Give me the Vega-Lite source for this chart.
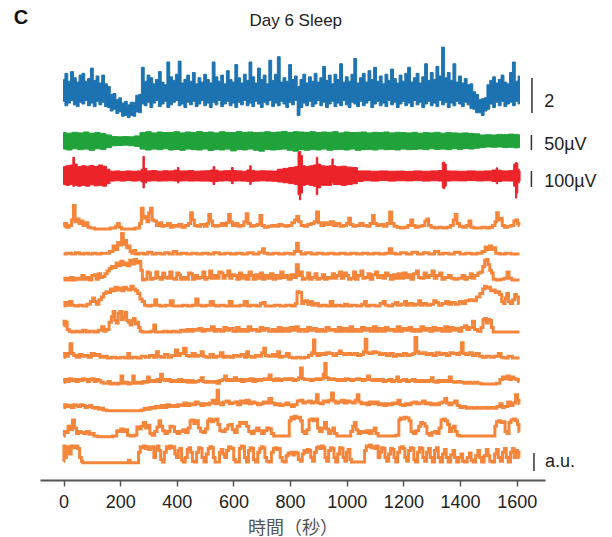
{
"$schema": "https://vega.github.io/schema/vega-lite/v6.json",
"background": "white",
"padding": {"left": 13, "top": 8, "right": 5, "bottom": 2},
"spacing": 0,
"bounds": "flush",
"config": {"view": {"stroke": null}},
"datasets": {
"blue": [{"t":0,"lo":1.35,"hi":2.6},{"t":10,"lo":1.1,"hi":2.95},{"t":20,"lo":1.25,"hi":2.5},{"t":30,"lo":1.4,"hi":3.05},{"t":40,"lo":1.15,"hi":2.7},{"t":50,"lo":1.05,"hi":2.45},{"t":60,"lo":1.3,"hi":2.85},{"t":70,"lo":1.2,"hi":2.95},{"t":80,"lo":1.4,"hi":2.5},{"t":90,"lo":1.1,"hi":2.65},{"t":100,"lo":1.25,"hi":3.25},{"t":110,"lo":1.05,"hi":2.55},{"t":120,"lo":1.35,"hi":2.8},{"t":130,"lo":1.15,"hi":2.4},{"t":140,"lo":1.3,"hi":2.85},{"t":150,"lo":1.05,"hi":2.35},{"t":160,"lo":1.0,"hi":2.2},{"t":170,"lo":0.8,"hi":1.75},{"t":180,"lo":0.9,"hi":1.8},{"t":190,"lo":0.65,"hi":1.45},{"t":200,"lo":0.75,"hi":1.55},{"t":210,"lo":0.5,"hi":1.25},{"t":220,"lo":0.55,"hi":1.35},{"t":230,"lo":0.42,"hi":1.15},{"t":240,"lo":0.55,"hi":1.3},{"t":250,"lo":0.5,"hi":1.3},{"t":260,"lo":0.75,"hi":1.7},{"t":270,"lo":0.7,"hi":1.75},{"t":280,"lo":1.2,"hi":3.3},{"t":290,"lo":1.1,"hi":2.5},{"t":300,"lo":1.3,"hi":2.85},{"t":310,"lo":1.0,"hi":2.7},{"t":320,"lo":1.25,"hi":2.35},{"t":330,"lo":1.4,"hi":2.6},{"t":340,"lo":1.05,"hi":3.05},{"t":350,"lo":1.2,"hi":2.45},{"t":360,"lo":1.35,"hi":2.3},{"t":370,"lo":1.0,"hi":3.6},{"t":380,"lo":1.15,"hi":2.75},{"t":390,"lo":1.3,"hi":2.55},{"t":400,"lo":1.4,"hi":2.9},{"t":410,"lo":1.1,"hi":3.65},{"t":420,"lo":1.2,"hi":2.4},{"t":430,"lo":1.0,"hi":2.6},{"t":440,"lo":1.3,"hi":2.85},{"t":450,"lo":1.15,"hi":2.5},{"t":460,"lo":1.35,"hi":3.0},{"t":470,"lo":1.05,"hi":2.35},{"t":480,"lo":1.2,"hi":2.7},{"t":490,"lo":1.4,"hi":2.45},{"t":500,"lo":1.1,"hi":2.9},{"t":510,"lo":1.25,"hi":2.6},{"t":520,"lo":1.0,"hi":2.4},{"t":530,"lo":1.3,"hi":3.6},{"t":540,"lo":1.15,"hi":2.75},{"t":550,"lo":1.4,"hi":2.5},{"t":560,"lo":1.05,"hi":2.85},{"t":570,"lo":1.2,"hi":2.35},{"t":580,"lo":1.35,"hi":3.1},{"t":590,"lo":1.1,"hi":2.6},{"t":600,"lo":1.25,"hi":2.45},{"t":610,"lo":1.0,"hi":3.45},{"t":620,"lo":1.3,"hi":2.7},{"t":630,"lo":1.15,"hi":2.4},{"t":640,"lo":1.4,"hi":2.9},{"t":650,"lo":1.1,"hi":2.55},{"t":660,"lo":1.25,"hi":3.6},{"t":670,"lo":1.05,"hi":2.75},{"t":680,"lo":1.35,"hi":2.4},{"t":690,"lo":1.2,"hi":3.25},{"t":700,"lo":1.0,"hi":2.6},{"t":710,"lo":1.3,"hi":2.85},{"t":720,"lo":1.15,"hi":2.35},{"t":730,"lo":1.4,"hi":3.7},{"t":740,"lo":1.05,"hi":2.55},{"t":750,"lo":1.25,"hi":2.9},{"t":760,"lo":1.1,"hi":3.9},{"t":770,"lo":1.35,"hi":2.45},{"t":780,"lo":1.2,"hi":2.7},{"t":790,"lo":1.0,"hi":2.5},{"t":800,"lo":1.3,"hi":3.45},{"t":810,"lo":1.15,"hi":2.6},{"t":820,"lo":1.4,"hi":2.8},{"t":830,"lo":0.55,"hi":2.2},{"t":840,"lo":1.0,"hi":2.6},{"t":850,"lo":1.25,"hi":2.9},{"t":860,"lo":1.1,"hi":2.4},{"t":870,"lo":1.35,"hi":2.75},{"t":880,"lo":1.05,"hi":2.5},{"t":890,"lo":1.2,"hi":2.95},{"t":900,"lo":1.4,"hi":2.45},{"t":910,"lo":1.1,"hi":2.7},{"t":920,"lo":1.3,"hi":3.35},{"t":930,"lo":1.0,"hi":2.55},{"t":940,"lo":1.2,"hi":2.85},{"t":950,"lo":1.35,"hi":2.35},{"t":960,"lo":1.05,"hi":2.9},{"t":970,"lo":1.25,"hi":2.6},{"t":980,"lo":1.1,"hi":3.5},{"t":990,"lo":1.4,"hi":2.45},{"t":1000,"lo":1.15,"hi":2.75},{"t":1010,"lo":1.0,"hi":2.5},{"t":1020,"lo":1.3,"hi":2.9},{"t":1030,"lo":1.2,"hi":3.8},{"t":1040,"lo":1.05,"hi":2.4},{"t":1050,"lo":1.35,"hi":2.7},{"t":1060,"lo":1.1,"hi":2.95},{"t":1070,"lo":1.25,"hi":2.45},{"t":1080,"lo":1.4,"hi":3.1},{"t":1090,"lo":1.0,"hi":2.6},{"t":1100,"lo":1.2,"hi":3.3},{"t":1110,"lo":1.35,"hi":2.5},{"t":1120,"lo":1.1,"hi":2.8},{"t":1130,"lo":1.25,"hi":2.35},{"t":1140,"lo":1.05,"hi":2.9},{"t":1150,"lo":1.4,"hi":2.55},{"t":1160,"lo":1.15,"hi":3.2},{"t":1170,"lo":1.3,"hi":2.65},{"t":1180,"lo":1.0,"hi":2.4},{"t":1190,"lo":1.2,"hi":2.85},{"t":1200,"lo":1.35,"hi":2.5},{"t":1210,"lo":1.1,"hi":2.95},{"t":1220,"lo":1.25,"hi":3.3},{"t":1230,"lo":1.05,"hi":2.45},{"t":1240,"lo":1.4,"hi":2.7},{"t":1250,"lo":1.15,"hi":2.95},{"t":1260,"lo":1.3,"hi":2.4},{"t":1270,"lo":1.0,"hi":2.75},{"t":1280,"lo":1.2,"hi":3.5},{"t":1290,"lo":1.35,"hi":2.55},{"t":1300,"lo":1.1,"hi":3.0},{"t":1310,"lo":1.25,"hi":2.6},{"t":1320,"lo":1.05,"hi":3.35},{"t":1330,"lo":1.4,"hi":2.8},{"t":1340,"lo":1.15,"hi":4.45},{"t":1350,"lo":1.3,"hi":2.7},{"t":1360,"lo":1.0,"hi":3.0},{"t":1370,"lo":1.25,"hi":2.55},{"t":1380,"lo":1.1,"hi":3.5},{"t":1390,"lo":1.35,"hi":2.45},{"t":1400,"lo":1.2,"hi":2.8},{"t":1410,"lo":1.05,"hi":2.4},{"t":1420,"lo":1.3,"hi":2.65},{"t":1430,"lo":1.15,"hi":2.3},{"t":1440,"lo":0.95,"hi":2.35},{"t":1450,"lo":0.9,"hi":1.9},{"t":1460,"lo":0.7,"hi":1.75},{"t":1470,"lo":0.7,"hi":1.45},{"t":1480,"lo":0.55,"hi":1.5},{"t":1490,"lo":0.8,"hi":1.55},{"t":1500,"lo":0.9,"hi":2.3},{"t":1510,"lo":1.2,"hi":2.55},{"t":1520,"lo":1.0,"hi":2.75},{"t":1530,"lo":1.3,"hi":2.4},{"t":1540,"lo":1.1,"hi":2.6},{"t":1550,"lo":1.35,"hi":2.85},{"t":1560,"lo":1.05,"hi":2.45},{"t":1570,"lo":1.2,"hi":2.35},{"t":1580,"lo":1.3,"hi":3.0},{"t":1590,"lo":1.1,"hi":3.6},{"t":1600,"lo":1.35,"hi":2.5},{"t":1610,"lo":1.2,"hi":2.8}],
"green": [{"t":0,"lo":-27,"hi":28},{"t":20,"lo":-30,"hi":26},{"t":40,"lo":-26,"hi":29},{"t":60,"lo":-29,"hi":27},{"t":80,"lo":-27,"hi":30},{"t":100,"lo":-31,"hi":26},{"t":120,"lo":-26,"hi":28},{"t":140,"lo":-28,"hi":25},{"t":160,"lo":-22,"hi":20},{"t":180,"lo":-16,"hi":15},{"t":200,"lo":-15,"hi":14},{"t":220,"lo":-14,"hi":15},{"t":240,"lo":-16,"hi":14},{"t":260,"lo":-18,"hi":17},{"t":280,"lo":-27,"hi":28},{"t":300,"lo":-30,"hi":31},{"t":320,"lo":-27,"hi":27},{"t":340,"lo":-29,"hi":30},{"t":360,"lo":-26,"hi":28},{"t":380,"lo":-30,"hi":29},{"t":400,"lo":-28,"hi":31},{"t":420,"lo":-31,"hi":27},{"t":440,"lo":-27,"hi":30},{"t":460,"lo":-29,"hi":28},{"t":480,"lo":-30,"hi":32},{"t":500,"lo":-27,"hi":28},{"t":520,"lo":-32,"hi":30},{"t":540,"lo":-28,"hi":27},{"t":560,"lo":-30,"hi":31},{"t":580,"lo":-27,"hi":29},{"t":600,"lo":-33,"hi":28},{"t":620,"lo":-28,"hi":32},{"t":640,"lo":-30,"hi":29},{"t":660,"lo":-27,"hi":30},{"t":680,"lo":-31,"hi":28},{"t":700,"lo":-34,"hi":29},{"t":720,"lo":-28,"hi":31},{"t":740,"lo":-30,"hi":28},{"t":760,"lo":-29,"hi":30},{"t":780,"lo":-27,"hi":32},{"t":800,"lo":-31,"hi":28},{"t":820,"lo":-34,"hi":31},{"t":840,"lo":-29,"hi":30},{"t":860,"lo":-31,"hi":29},{"t":880,"lo":-28,"hi":31},{"t":900,"lo":-30,"hi":28},{"t":920,"lo":-27,"hi":30},{"t":940,"lo":-31,"hi":29},{"t":960,"lo":-29,"hi":31},{"t":980,"lo":-28,"hi":27},{"t":1000,"lo":-30,"hi":30},{"t":1020,"lo":-27,"hi":28},{"t":1040,"lo":-31,"hi":29},{"t":1060,"lo":-29,"hi":30},{"t":1080,"lo":-28,"hi":27},{"t":1100,"lo":-30,"hi":29},{"t":1120,"lo":-27,"hi":28},{"t":1140,"lo":-29,"hi":30},{"t":1160,"lo":-28,"hi":27},{"t":1180,"lo":-30,"hi":29},{"t":1200,"lo":-27,"hi":28},{"t":1220,"lo":-29,"hi":27},{"t":1240,"lo":-28,"hi":29},{"t":1260,"lo":-27,"hi":26},{"t":1280,"lo":-29,"hi":28},{"t":1300,"lo":-26,"hi":27},{"t":1320,"lo":-28,"hi":29},{"t":1340,"lo":-27,"hi":26},{"t":1360,"lo":-29,"hi":28},{"t":1380,"lo":-26,"hi":27},{"t":1400,"lo":-28,"hi":26},{"t":1420,"lo":-25,"hi":27},{"t":1440,"lo":-27,"hi":25},{"t":1460,"lo":-24,"hi":24},{"t":1480,"lo":-22,"hi":20},{"t":1500,"lo":-20,"hi":21},{"t":1520,"lo":-21,"hi":20},{"t":1540,"lo":-20,"hi":22},{"t":1560,"lo":-22,"hi":21},{"t":1580,"lo":-21,"hi":23},{"t":1600,"lo":-23,"hi":22},{"t":1610,"lo":-22,"hi":21}],
"red": [{"t":0,"lo":-50,"hi":55},{"t":15,"lo":-55,"hi":60},{"t":30,"lo":-50,"hi":65},{"t":36,"lo":-60,"hi":110},{"t":42,"lo":-55,"hi":70},{"t":55,"lo":-60,"hi":55},{"t":70,"lo":-55,"hi":60},{"t":85,"lo":-60,"hi":58},{"t":100,"lo":-52,"hi":62},{"t":115,"lo":-58,"hi":56},{"t":130,"lo":-55,"hi":65},{"t":145,"lo":-60,"hi":58},{"t":158,"lo":-45,"hi":40},{"t":170,"lo":-30,"hi":28},{"t":190,"lo":-28,"hi":30},{"t":210,"lo":-30,"hi":27},{"t":230,"lo":-27,"hi":30},{"t":250,"lo":-30,"hi":28},{"t":270,"lo":-28,"hi":30},{"t":278,"lo":-35,"hi":40},{"t":283,"lo":-70,"hi":115},{"t":288,"lo":-40,"hi":45},{"t":300,"lo":-30,"hi":30},{"t":320,"lo":-28,"hi":32},{"t":340,"lo":-30,"hi":28},{"t":360,"lo":-29,"hi":31},{"t":380,"lo":-28,"hi":30},{"t":400,"lo":-30,"hi":35},{"t":405,"lo":-40,"hi":50},{"t":410,"lo":-30,"hi":30},{"t":430,"lo":-28,"hi":30},{"t":450,"lo":-30,"hi":32},{"t":470,"lo":-29,"hi":28},{"t":490,"lo":-30,"hi":30},{"t":510,"lo":-30,"hi":31},{"t":525,"lo":-32,"hi":35},{"t":531,"lo":-50,"hi":55},{"t":537,"lo":-32,"hi":35},{"t":555,"lo":-30,"hi":29},{"t":575,"lo":-28,"hi":31},{"t":590,"lo":-30,"hi":32},{"t":596,"lo":-45,"hi":50},{"t":602,"lo":-30,"hi":32},{"t":620,"lo":-29,"hi":30},{"t":640,"lo":-30,"hi":28},{"t":655,"lo":-32,"hi":36},{"t":660,"lo":-50,"hi":60},{"t":665,"lo":-32,"hi":33},{"t":685,"lo":-30,"hi":29},{"t":705,"lo":-28,"hi":31},{"t":725,"lo":-30,"hi":30},{"t":745,"lo":-31,"hi":29},{"t":765,"lo":-35,"hi":40},{"t":785,"lo":-40,"hi":45},{"t":805,"lo":-45,"hi":50},{"t":825,"lo":-50,"hi":55},{"t":831,"lo":-110,"hi":140},{"t":835,"lo":-140,"hi":145},{"t":840,"lo":-100,"hi":120},{"t":848,"lo":-55,"hi":60},{"t":860,"lo":-50,"hi":55},{"t":875,"lo":-55,"hi":60},{"t":890,"lo":-60,"hi":65},{"t":895,"lo":-110,"hi":110},{"t":900,"lo":-70,"hi":70},{"t":915,"lo":-55,"hi":60},{"t":930,"lo":-55,"hi":58},{"t":945,"lo":-55,"hi":60},{"t":950,"lo":-40,"hi":100},{"t":955,"lo":-50,"hi":60},{"t":970,"lo":-50,"hi":55},{"t":990,"lo":-55,"hi":58},{"t":1010,"lo":-50,"hi":52},{"t":1030,"lo":-45,"hi":50},{"t":1045,"lo":-32,"hi":30},{"t":1070,"lo":-28,"hi":30},{"t":1100,"lo":-30,"hi":28},{"t":1130,"lo":-27,"hi":30},{"t":1160,"lo":-30,"hi":28},{"t":1190,"lo":-28,"hi":29},{"t":1220,"lo":-29,"hi":27},{"t":1250,"lo":-27,"hi":30},{"t":1280,"lo":-30,"hi":28},{"t":1310,"lo":-28,"hi":30},{"t":1335,"lo":-30,"hi":32},{"t":1340,"lo":-70,"hi":80},{"t":1344,"lo":-75,"hi":82},{"t":1348,"lo":-60,"hi":70},{"t":1355,"lo":-30,"hi":30},{"t":1380,"lo":-28,"hi":29},{"t":1410,"lo":-29,"hi":28},{"t":1440,"lo":-27,"hi":30},{"t":1470,"lo":-29,"hi":28},{"t":1500,"lo":-28,"hi":30},{"t":1525,"lo":-32,"hi":35},{"t":1530,"lo":-45,"hi":48},{"t":1535,"lo":-32,"hi":34},{"t":1560,"lo":-29,"hi":30},{"t":1585,"lo":-30,"hi":32},{"t":1594,"lo":-60,"hi":70},{"t":1598,"lo":-130,"hi":80},{"t":1602,"lo":-100,"hi":75},{"t":1606,"lo":-40,"hi":40},{"t":1612,"lo":-30,"hi":30}],
"o1": [{"t":0,"v":0.15},{"t":8,"v":0.3},{"t":15,"v":0.1},{"t":25,"v":0.2},{"t":32,"v":0.5},{"t":38,"v":1.3},{"t":44,"v":0.4},{"t":52,"v":0.55},{"t":58,"v":0.3},{"t":66,"v":0.45},{"t":72,"v":0.2},{"t":82,"v":0.35},{"t":90,"v":0.1},{"t":100,"v":0.05},{"t":120,"v":0},{"t":150,"v":0},{"t":180,"v":0.05},{"t":188,"v":0.15},{"t":194,"v":0.3},{"t":200,"v":0.1},{"t":210,"v":0},{"t":240,"v":0},{"t":265,"v":0.05},{"t":272,"v":0.3},{"t":278,"v":1.15},{"t":284,"v":0.6},{"t":292,"v":0.7},{"t":298,"v":0.4},{"t":304,"v":0.9},{"t":310,"v":1.15},{"t":316,"v":0.5},{"t":324,"v":0.45},{"t":332,"v":0.2},{"t":342,"v":0.35},{"t":352,"v":0.15},{"t":362,"v":0.2},{"t":372,"v":0.3},{"t":382,"v":0.1},{"t":392,"v":0.2},{"t":402,"v":0.15},{"t":412,"v":0.25},{"t":424,"v":0.1},{"t":436,"v":0.2},{"t":446,"v":0.3},{"t":452,"v":0.9},{"t":458,"v":0.5},{"t":466,"v":0.2},{"t":478,"v":0.15},{"t":490,"v":0.25},{"t":504,"v":0.15},{"t":510,"v":0.3},{"t":516,"v":0.8},{"t":522,"v":0.45},{"t":530,"v":0.2},{"t":540,"v":0.15},{"t":552,"v":0.2},{"t":562,"v":0.3},{"t":570,"v":0.2},{"t":580,"v":0.35},{"t":586,"v":0.8},{"t":592,"v":0.4},{"t":600,"v":0.2},{"t":612,"v":0.3},{"t":620,"v":0.15},{"t":632,"v":0.2},{"t":642,"v":0.4},{"t":648,"v":0.85},{"t":654,"v":0.3},{"t":666,"v":0.15},{"t":678,"v":0.2},{"t":690,"v":0.25},{"t":697,"v":0.75},{"t":703,"v":0.2},{"t":715,"v":0.1},{"t":730,"v":0.15},{"t":742,"v":0.2},{"t":754,"v":0.15},{"t":766,"v":0.25},{"t":776,"v":0.2},{"t":788,"v":0.15},{"t":800,"v":0.2},{"t":812,"v":0.35},{"t":820,"v":0.5},{"t":827,"v":0.7},{"t":834,"v":0.4},{"t":844,"v":0.2},{"t":856,"v":0.15},{"t":868,"v":0.25},{"t":880,"v":0.3},{"t":890,"v":0.4},{"t":897,"v":0.95},{"t":904,"v":0.35},{"t":914,"v":0.2},{"t":926,"v":0.35},{"t":936,"v":0.25},{"t":948,"v":0.4},{"t":958,"v":0.2},{"t":970,"v":0.3},{"t":982,"v":0.15},{"t":994,"v":0.2},{"t":1004,"v":0.3},{"t":1010,"v":0.6},{"t":1016,"v":0.25},{"t":1028,"v":0.15},{"t":1040,"v":0.2},{"t":1052,"v":0.3},{"t":1064,"v":0.2},{"t":1076,"v":0.15},{"t":1088,"v":0.3},{"t":1094,"v":0.75},{"t":1100,"v":0.3},{"t":1112,"v":0.2},{"t":1124,"v":0.25},{"t":1136,"v":0.15},{"t":1148,"v":0.3},{"t":1155,"v":0.95},{"t":1162,"v":0.3},{"t":1172,"v":0.15},{"t":1184,"v":0.1},{"t":1196,"v":0.05},{"t":1210,"v":0.1},{"t":1222,"v":0.2},{"t":1230,"v":0.5},{"t":1236,"v":0.2},{"t":1248,"v":0.1},{"t":1260,"v":0.15},{"t":1272,"v":0.2},{"t":1280,"v":0.45},{"t":1286,"v":0.55},{"t":1292,"v":0.2},{"t":1304,"v":0.1},{"t":1316,"v":0.05},{"t":1330,"v":0.1},{"t":1345,"v":0.05},{"t":1360,"v":0.1},{"t":1372,"v":0.2},{"t":1380,"v":0.5},{"t":1386,"v":0.8},{"t":1392,"v":0.3},{"t":1404,"v":0.15},{"t":1416,"v":0.1},{"t":1428,"v":0.2},{"t":1435,"v":0.45},{"t":1442,"v":0.1},{"t":1455,"v":0.05},{"t":1470,"v":0.05},{"t":1485,"v":0.1},{"t":1498,"v":0.05},{"t":1510,"v":0.1},{"t":1520,"v":0.2},{"t":1527,"v":0.4},{"t":1532,"v":0.9},{"t":1538,"v":0.5},{"t":1546,"v":0.6},{"t":1552,"v":0.2},{"t":1562,"v":0.1},{"t":1574,"v":0.15},{"t":1586,"v":0.2},{"t":1594,"v":0.45},{"t":1600,"v":0.5},{"t":1606,"v":0.3},{"t":1610,"v":0.2}],
"o2": [{"t":0,"v":0.05},{"t":20,"v":0.1},{"t":35,"v":0.05},{"t":50,"v":0.12},{"t":65,"v":0.05},{"t":80,"v":0.1},{"t":95,"v":0.05},{"t":110,"v":0.1},{"t":125,"v":0.05},{"t":140,"v":0.1},{"t":155,"v":0.1},{"t":170,"v":0.2},{"t":180,"v":0.5},{"t":188,"v":0.3},{"t":195,"v":0.7},{"t":202,"v":0.55},{"t":208,"v":1.2},{"t":214,"v":0.6},{"t":220,"v":0.8},{"t":226,"v":0.4},{"t":232,"v":0.5},{"t":238,"v":0.2},{"t":245,"v":0.1},{"t":252,"v":0.25},{"t":258,"v":0.05},{"t":275,"v":0.1},{"t":290,"v":0.05},{"t":305,"v":0.15},{"t":320,"v":0.05},{"t":335,"v":0.1},{"t":350,"v":0.05},{"t":365,"v":0.12},{"t":380,"v":0.05},{"t":395,"v":0.2},{"t":405,"v":0.05},{"t":425,"v":0.1},{"t":445,"v":0.05},{"t":460,"v":0.1},{"t":480,"v":0.05},{"t":500,"v":0.1},{"t":520,"v":0.05},{"t":540,"v":0.12},{"t":560,"v":0.05},{"t":580,"v":0.1},{"t":600,"v":0.05},{"t":620,"v":0.1},{"t":640,"v":0.05},{"t":660,"v":0.12},{"t":680,"v":0.05},{"t":700,"v":0.15},{"t":706,"v":0.35},{"t":712,"v":0.1},{"t":730,"v":0.05},{"t":750,"v":0.1},{"t":770,"v":0.05},{"t":790,"v":0.1},{"t":810,"v":0.05},{"t":820,"v":0.2},{"t":826,"v":0.65},{"t":832,"v":0.2},{"t":845,"v":0.05},{"t":865,"v":0.12},{"t":885,"v":0.05},{"t":905,"v":0.1},{"t":925,"v":0.05},{"t":945,"v":0.1},{"t":965,"v":0.05},{"t":985,"v":0.1},{"t":1005,"v":0.05},{"t":1025,"v":0.1},{"t":1045,"v":0.05},{"t":1065,"v":0.1},{"t":1085,"v":0.05},{"t":1105,"v":0.1},{"t":1125,"v":0.05},{"t":1145,"v":0.1},{"t":1155,"v":0.35},{"t":1162,"v":0.1},{"t":1180,"v":0.05},{"t":1200,"v":0.12},{"t":1220,"v":0.05},{"t":1240,"v":0.15},{"t":1260,"v":0.05},{"t":1280,"v":0.12},{"t":1300,"v":0.05},{"t":1320,"v":0.2},{"t":1330,"v":0.05},{"t":1350,"v":0.1},{"t":1370,"v":0.05},{"t":1390,"v":0.15},{"t":1410,"v":0.05},{"t":1430,"v":0.1},{"t":1450,"v":0.05},{"t":1470,"v":0.1},{"t":1485,"v":0.2},{"t":1492,"v":0.45},{"t":1500,"v":0.3},{"t":1508,"v":0.5},{"t":1515,"v":0.3},{"t":1522,"v":0.4},{"t":1530,"v":0.1},{"t":1550,"v":0.05},{"t":1570,"v":0.1},{"t":1590,"v":0.05},{"t":1610,"v":0.05}],
"o3": [{"t":0,"v":0.05},{"t":10,"v":0.15},{"t":20,"v":0.05},{"t":30,"v":0.2},{"t":38,"v":0.05},{"t":50,"v":0.15},{"t":60,"v":0.1},{"t":70,"v":0.3},{"t":76,"v":0.1},{"t":88,"v":0.2},{"t":95,"v":0.05},{"t":105,"v":0.3},{"t":112,"v":0.35},{"t":118,"v":0.1},{"t":128,"v":0.4},{"t":134,"v":0.2},{"t":142,"v":0.25},{"t":150,"v":0.4},{"t":158,"v":0.55},{"t":166,"v":0.7},{"t":174,"v":0.8},{"t":182,"v":0.75},{"t":190,"v":1.0},{"t":198,"v":0.85},{"t":206,"v":1.1},{"t":214,"v":0.9},{"t":222,"v":1.0},{"t":230,"v":0.85},{"t":238,"v":1.15},{"t":246,"v":0.95},{"t":254,"v":1.2},{"t":262,"v":1.0},{"t":270,"v":1.1},{"t":276,"v":0.6},{"t":281,"v":0.05},{"t":292,"v":0.1},{"t":298,"v":0.5},{"t":304,"v":0.45},{"t":310,"v":0.1},{"t":322,"v":0.15},{"t":330,"v":0.5},{"t":336,"v":0.2},{"t":346,"v":0.1},{"t":354,"v":0.45},{"t":360,"v":0.2},{"t":370,"v":0.15},{"t":380,"v":0.5},{"t":386,"v":0.15},{"t":396,"v":0.1},{"t":404,"v":0.45},{"t":410,"v":0.35},{"t":416,"v":0.1},{"t":428,"v":0.2},{"t":436,"v":0.1},{"t":446,"v":0.45},{"t":452,"v":0.4},{"t":458,"v":0.1},{"t":470,"v":0.3},{"t":476,"v":0.15},{"t":488,"v":0.2},{"t":496,"v":0.5},{"t":502,"v":0.1},{"t":512,"v":0.2},{"t":520,"v":0.55},{"t":526,"v":0.15},{"t":536,"v":0.3},{"t":544,"v":0.15},{"t":554,"v":0.5},{"t":560,"v":0.45},{"t":566,"v":0.15},{"t":576,"v":0.3},{"t":584,"v":0.55},{"t":590,"v":0.15},{"t":600,"v":0.35},{"t":608,"v":0.3},{"t":616,"v":0.1},{"t":626,"v":0.45},{"t":632,"v":0.15},{"t":642,"v":0.3},{"t":650,"v":0.1},{"t":660,"v":0.5},{"t":666,"v":0.3},{"t":674,"v":0.1},{"t":684,"v":0.35},{"t":692,"v":0.15},{"t":700,"v":0.45},{"t":706,"v":0.1},{"t":716,"v":0.3},{"t":726,"v":0.15},{"t":736,"v":0.4},{"t":744,"v":0.1},{"t":754,"v":0.3},{"t":762,"v":0.15},{"t":772,"v":0.5},{"t":778,"v":0.2},{"t":788,"v":0.3},{"t":798,"v":0.1},{"t":810,"v":0.35},{"t":818,"v":0.2},{"t":826,"v":0.9},{"t":832,"v":0.3},{"t":840,"v":0.5},{"t":846,"v":0.1},{"t":858,"v":0.15},{"t":866,"v":0.45},{"t":872,"v":0.1},{"t":884,"v":0.2},{"t":892,"v":0.4},{"t":898,"v":0.1},{"t":910,"v":0.15},{"t":918,"v":0.35},{"t":926,"v":0.1},{"t":936,"v":0.2},{"t":944,"v":0.15},{"t":954,"v":0.4},{"t":960,"v":0.15},{"t":970,"v":0.3},{"t":978,"v":0.5},{"t":984,"v":0.15},{"t":996,"v":0.45},{"t":1002,"v":0.3},{"t":1010,"v":0.1},{"t":1020,"v":0.15},{"t":1028,"v":0.5},{"t":1034,"v":0.1},{"t":1046,"v":0.3},{"t":1054,"v":0.55},{"t":1060,"v":0.15},{"t":1070,"v":0.2},{"t":1080,"v":0.4},{"t":1086,"v":0.1},{"t":1098,"v":0.35},{"t":1106,"v":0.5},{"t":1112,"v":0.2},{"t":1124,"v":0.3},{"t":1132,"v":0.15},{"t":1142,"v":0.45},{"t":1150,"v":0.3},{"t":1158,"v":0.1},{"t":1170,"v":0.35},{"t":1176,"v":0.15},{"t":1188,"v":0.4},{"t":1196,"v":0.15},{"t":1206,"v":0.45},{"t":1214,"v":0.2},{"t":1224,"v":0.35},{"t":1230,"v":0.1},{"t":1242,"v":0.4},{"t":1250,"v":0.55},{"t":1256,"v":0.2},{"t":1268,"v":0.15},{"t":1278,"v":0.45},{"t":1286,"v":0.2},{"t":1296,"v":0.3},{"t":1306,"v":0.55},{"t":1312,"v":0.15},{"t":1324,"v":0.3},{"t":1332,"v":0.45},{"t":1340,"v":0.1},{"t":1354,"v":0.2},{"t":1364,"v":0.3},{"t":1374,"v":0.15},{"t":1386,"v":0.1},{"t":1400,"v":0.15},{"t":1414,"v":0.3},{"t":1420,"v":0.1},{"t":1432,"v":0.2},{"t":1440,"v":0.4},{"t":1446,"v":0.15},{"t":1458,"v":0.3},{"t":1468,"v":0.45},{"t":1476,"v":0.5},{"t":1484,"v":0.8},{"t":1490,"v":1.15},{"t":1496,"v":1.2},{"t":1502,"v":0.9},{"t":1508,"v":0.6},{"t":1514,"v":0.45},{"t":1520,"v":0.1},{"t":1535,"v":0.05},{"t":1550,"v":0.1},{"t":1562,"v":0.15},{"t":1570,"v":0.5},{"t":1576,"v":0.15},{"t":1590,"v":0.05},{"t":1610,"v":0.05}],
"o4": [{"t":0,"v":0.05},{"t":10,"v":0.25},{"t":16,"v":0.1},{"t":26,"v":0.3},{"t":34,"v":0.1},{"t":45,"v":0.05},{"t":60,"v":0.1},{"t":75,"v":0.05},{"t":90,"v":0.15},{"t":100,"v":0.3},{"t":106,"v":0.5},{"t":112,"v":0.3},{"t":120,"v":0.15},{"t":130,"v":0.4},{"t":138,"v":0.55},{"t":146,"v":0.75},{"t":154,"v":0.85},{"t":162,"v":0.8},{"t":170,"v":1.0},{"t":178,"v":0.9},{"t":186,"v":1.1},{"t":194,"v":0.95},{"t":202,"v":1.05},{"t":210,"v":0.9},{"t":218,"v":1.1},{"t":226,"v":1.0},{"t":234,"v":0.95},{"t":242,"v":1.15},{"t":250,"v":1.0},{"t":258,"v":0.9},{"t":266,"v":0.75},{"t":274,"v":0.45},{"t":282,"v":0.3},{"t":290,"v":0.1},{"t":300,"v":0.05},{"t":318,"v":0.1},{"t":326,"v":0.4},{"t":332,"v":0.1},{"t":350,"v":0.05},{"t":370,"v":0.1},{"t":384,"v":0.35},{"t":390,"v":0.05},{"t":410,"v":0.05},{"t":430,"v":0.1},{"t":446,"v":0.05},{"t":462,"v":0.1},{"t":472,"v":0.45},{"t":478,"v":0.1},{"t":495,"v":0.05},{"t":510,"v":0.1},{"t":526,"v":0.3},{"t":532,"v":0.1},{"t":545,"v":0.05},{"t":560,"v":0.1},{"t":578,"v":0.05},{"t":592,"v":0.3},{"t":598,"v":0.05},{"t":615,"v":0.05},{"t":630,"v":0.1},{"t":646,"v":0.3},{"t":652,"v":0.05},{"t":670,"v":0.1},{"t":690,"v":0.05},{"t":700,"v":0.2},{"t":708,"v":0.25},{"t":716,"v":0.05},{"t":735,"v":0.05},{"t":755,"v":0.1},{"t":775,"v":0.05},{"t":795,"v":0.1},{"t":815,"v":0.05},{"t":822,"v":0.2},{"t":827,"v":0.85},{"t":838,"v":0.8},{"t":844,"v":0.2},{"t":852,"v":0.3},{"t":858,"v":0.35},{"t":866,"v":0.15},{"t":875,"v":0.3},{"t":882,"v":0.1},{"t":895,"v":0.2},{"t":905,"v":0.05},{"t":920,"v":0.1},{"t":935,"v":0.05},{"t":948,"v":0.3},{"t":954,"v":0.05},{"t":970,"v":0.1},{"t":985,"v":0.05},{"t":1000,"v":0.15},{"t":1008,"v":0.05},{"t":1025,"v":0.1},{"t":1045,"v":0.05},{"t":1060,"v":0.15},{"t":1066,"v":0.3},{"t":1072,"v":0.05},{"t":1090,"v":0.1},{"t":1110,"v":0.05},{"t":1125,"v":0.2},{"t":1132,"v":0.3},{"t":1140,"v":0.1},{"t":1155,"v":0.05},{"t":1168,"v":0.15},{"t":1176,"v":0.25},{"t":1184,"v":0.1},{"t":1200,"v":0.15},{"t":1208,"v":0.3},{"t":1214,"v":0.1},{"t":1228,"v":0.2},{"t":1238,"v":0.1},{"t":1250,"v":0.15},{"t":1258,"v":0.35},{"t":1264,"v":0.1},{"t":1276,"v":0.2},{"t":1290,"v":0.1},{"t":1302,"v":0.15},{"t":1312,"v":0.35},{"t":1320,"v":0.25},{"t":1330,"v":0.1},{"t":1344,"v":0.2},{"t":1354,"v":0.3},{"t":1364,"v":0.15},{"t":1376,"v":0.25},{"t":1390,"v":0.15},{"t":1404,"v":0.3},{"t":1414,"v":0.2},{"t":1426,"v":0.35},{"t":1440,"v":0.4},{"t":1452,"v":0.35},{"t":1464,"v":0.55},{"t":1476,"v":0.75},{"t":1484,"v":1.0},{"t":1490,"v":1.15},{"t":1496,"v":1.05},{"t":1504,"v":1.1},{"t":1512,"v":0.9},{"t":1520,"v":0.95},{"t":1528,"v":0.8},{"t":1536,"v":0.85},{"t":1544,"v":0.7},{"t":1550,"v":0.3},{"t":1556,"v":0.2},{"t":1562,"v":0.5},{"t":1568,"v":0.75},{"t":1574,"v":0.3},{"t":1582,"v":0.2},{"t":1590,"v":0.4},{"t":1596,"v":0.7},{"t":1602,"v":0.55},{"t":1610,"v":0.2}],
"o5": [{"t":0,"v":0.4},{"t":4,"v":0.65},{"t":10,"v":0.6},{"t":16,"v":0.2},{"t":24,"v":0.1},{"t":35,"v":0.05},{"t":50,"v":0.1},{"t":60,"v":0.05},{"t":75,"v":0.15},{"t":85,"v":0.05},{"t":100,"v":0.1},{"t":115,"v":0.05},{"t":130,"v":0.15},{"t":140,"v":0.35},{"t":146,"v":0.1},{"t":156,"v":0.2},{"t":166,"v":0.6},{"t":172,"v":0.9},{"t":178,"v":1.2},{"t":184,"v":0.7},{"t":190,"v":0.55},{"t":196,"v":1.1},{"t":202,"v":1.2},{"t":208,"v":0.75},{"t":214,"v":0.9},{"t":220,"v":1.15},{"t":226,"v":0.7},{"t":232,"v":0.6},{"t":238,"v":0.45},{"t":244,"v":0.7},{"t":250,"v":0.8},{"t":256,"v":0.5},{"t":262,"v":0.6},{"t":268,"v":0.3},{"t":274,"v":0.1},{"t":285,"v":0.05},{"t":300,"v":0.05},{"t":315,"v":0.1},{"t":322,"v":0.45},{"t":328,"v":0.05},{"t":345,"v":0.05},{"t":360,"v":0.1},{"t":375,"v":0.05},{"t":390,"v":0.1},{"t":405,"v":0.05},{"t":420,"v":0.15},{"t":430,"v":0.1},{"t":442,"v":0.2},{"t":452,"v":0.1},{"t":462,"v":0.2},{"t":472,"v":0.15},{"t":484,"v":0.25},{"t":494,"v":0.1},{"t":506,"v":0.2},{"t":516,"v":0.15},{"t":528,"v":0.35},{"t":536,"v":0.1},{"t":548,"v":0.2},{"t":560,"v":0.1},{"t":572,"v":0.3},{"t":580,"v":0.15},{"t":592,"v":0.25},{"t":604,"v":0.1},{"t":616,"v":0.3},{"t":624,"v":0.1},{"t":636,"v":0.2},{"t":646,"v":0.1},{"t":658,"v":0.35},{"t":664,"v":0.15},{"t":676,"v":0.2},{"t":688,"v":0.1},{"t":700,"v":0.3},{"t":706,"v":0.15},{"t":718,"v":0.25},{"t":730,"v":0.1},{"t":742,"v":0.2},{"t":752,"v":0.1},{"t":764,"v":0.3},{"t":772,"v":0.1},{"t":784,"v":0.25},{"t":794,"v":0.1},{"t":806,"v":0.3},{"t":814,"v":0.15},{"t":826,"v":0.35},{"t":832,"v":0.1},{"t":846,"v":0.2},{"t":856,"v":0.1},{"t":868,"v":0.3},{"t":876,"v":0.15},{"t":888,"v":0.25},{"t":898,"v":0.1},{"t":910,"v":0.2},{"t":920,"v":0.1},{"t":934,"v":0.3},{"t":942,"v":0.15},{"t":954,"v":0.2},{"t":964,"v":0.1},{"t":976,"v":0.3},{"t":984,"v":0.1},{"t":996,"v":0.25},{"t":1006,"v":0.1},{"t":1018,"v":0.35},{"t":1024,"v":0.1},{"t":1036,"v":0.2},{"t":1046,"v":0.1},{"t":1058,"v":0.3},{"t":1066,"v":0.15},{"t":1078,"v":0.25},{"t":1088,"v":0.1},{"t":1100,"v":0.35},{"t":1108,"v":0.1},{"t":1120,"v":0.25},{"t":1130,"v":0.1},{"t":1142,"v":0.3},{"t":1150,"v":0.15},{"t":1162,"v":0.2},{"t":1172,"v":0.1},{"t":1184,"v":0.35},{"t":1192,"v":0.1},{"t":1204,"v":0.25},{"t":1214,"v":0.15},{"t":1226,"v":0.3},{"t":1234,"v":0.1},{"t":1246,"v":0.2},{"t":1256,"v":0.1},{"t":1268,"v":0.35},{"t":1276,"v":0.15},{"t":1288,"v":0.25},{"t":1298,"v":0.1},{"t":1310,"v":0.3},{"t":1318,"v":0.15},{"t":1330,"v":0.25},{"t":1340,"v":0.1},{"t":1352,"v":0.35},{"t":1360,"v":0.1},{"t":1372,"v":0.3},{"t":1380,"v":0.15},{"t":1392,"v":0.25},{"t":1400,"v":0.1},{"t":1412,"v":0.3},{"t":1420,"v":0.4},{"t":1428,"v":0.2},{"t":1440,"v":0.3},{"t":1448,"v":0.65},{"t":1454,"v":0.2},{"t":1470,"v":0.1},{"t":1478,"v":0.3},{"t":1484,"v":0.75},{"t":1490,"v":0.8},{"t":1496,"v":0.55},{"t":1502,"v":0.75},{"t":1508,"v":0.7},{"t":1514,"v":0.3},{"t":1520,"v":0.05},{"t":1540,"v":0.05},{"t":1570,"v":0.05},{"t":1610,"v":0.05}],
"o6": [{"t":0,"v":0.1},{"t":8,"v":0.3},{"t":14,"v":0.15},{"t":20,"v":0.3},{"t":26,"v":0.85},{"t":32,"v":0.3},{"t":40,"v":0.2},{"t":50,"v":0.1},{"t":62,"v":0.25},{"t":70,"v":0.15},{"t":82,"v":0.2},{"t":92,"v":0.1},{"t":104,"v":0.3},{"t":112,"v":0.2},{"t":124,"v":0.25},{"t":134,"v":0.1},{"t":148,"v":0.15},{"t":160,"v":0.05},{"t":178,"v":0.1},{"t":192,"v":0.05},{"t":210,"v":0.1},{"t":224,"v":0.05},{"t":230,"v":0.3},{"t":236,"v":0.05},{"t":252,"v":0.1},{"t":266,"v":0.05},{"t":282,"v":0.15},{"t":296,"v":0.1},{"t":310,"v":0.2},{"t":324,"v":0.1},{"t":332,"v":0.4},{"t":338,"v":0.15},{"t":350,"v":0.1},{"t":364,"v":0.25},{"t":374,"v":0.1},{"t":390,"v":0.2},{"t":400,"v":0.5},{"t":406,"v":0.2},{"t":418,"v":0.3},{"t":430,"v":0.6},{"t":436,"v":0.2},{"t":448,"v":0.15},{"t":460,"v":0.3},{"t":470,"v":0.15},{"t":482,"v":0.2},{"t":490,"v":0.4},{"t":496,"v":0.15},{"t":510,"v":0.1},{"t":524,"v":0.25},{"t":534,"v":0.1},{"t":548,"v":0.15},{"t":560,"v":0.35},{"t":566,"v":0.1},{"t":580,"v":0.15},{"t":594,"v":0.1},{"t":608,"v":0.2},{"t":620,"v":0.15},{"t":634,"v":0.25},{"t":644,"v":0.1},{"t":650,"v":0.4},{"t":656,"v":0.15},{"t":670,"v":0.1},{"t":684,"v":0.2},{"t":696,"v":0.15},{"t":704,"v":0.35},{"t":710,"v":0.6},{"t":716,"v":0.2},{"t":730,"v":0.15},{"t":744,"v":0.25},{"t":752,"v":0.15},{"t":760,"v":0.4},{"t":766,"v":0.1},{"t":780,"v":0.15},{"t":794,"v":0.3},{"t":800,"v":0.1},{"t":816,"v":0.05},{"t":830,"v":0.1},{"t":844,"v":0.05},{"t":858,"v":0.1},{"t":872,"v":0.2},{"t":880,"v":0.35},{"t":885,"v":1.05},{"t":890,"v":0.3},{"t":900,"v":0.2},{"t":912,"v":0.3},{"t":922,"v":0.25},{"t":934,"v":0.35},{"t":946,"v":0.3},{"t":958,"v":0.2},{"t":970,"v":0.3},{"t":977,"v":0.45},{"t":984,"v":0.3},{"t":996,"v":0.25},{"t":1008,"v":0.3},{"t":1020,"v":0.25},{"t":1032,"v":0.3},{"t":1044,"v":0.2},{"t":1056,"v":0.25},{"t":1062,"v":0.4},{"t":1068,"v":1.1},{"t":1074,"v":0.35},{"t":1086,"v":0.3},{"t":1098,"v":0.4},{"t":1110,"v":0.35},{"t":1122,"v":0.25},{"t":1134,"v":0.3},{"t":1146,"v":0.2},{"t":1158,"v":0.3},{"t":1170,"v":0.15},{"t":1182,"v":0.25},{"t":1194,"v":0.2},{"t":1206,"v":0.3},{"t":1218,"v":0.2},{"t":1230,"v":0.25},{"t":1238,"v":0.3},{"t":1244,"v":1.2},{"t":1250,"v":0.4},{"t":1262,"v":0.3},{"t":1274,"v":0.35},{"t":1286,"v":0.25},{"t":1298,"v":0.3},{"t":1310,"v":0.2},{"t":1322,"v":0.35},{"t":1334,"v":0.25},{"t":1346,"v":0.3},{"t":1358,"v":0.2},{"t":1370,"v":0.35},{"t":1382,"v":0.3},{"t":1394,"v":0.25},{"t":1402,"v":0.35},{"t":1408,"v":0.9},{"t":1414,"v":0.3},{"t":1426,"v":0.25},{"t":1438,"v":0.35},{"t":1450,"v":0.2},{"t":1462,"v":0.3},{"t":1474,"v":0.15},{"t":1486,"v":0.1},{"t":1500,"v":0.15},{"t":1514,"v":0.1},{"t":1528,"v":0.15},{"t":1542,"v":0.3},{"t":1548,"v":0.1},{"t":1562,"v":0.05},{"t":1578,"v":0.15},{"t":1592,"v":0.05},{"t":1610,"v":0.05}],
"o7": [{"t":0,"v":0.15},{"t":8,"v":0.3},{"t":16,"v":0.2},{"t":24,"v":0.35},{"t":32,"v":0.25},{"t":40,"v":0.3},{"t":48,"v":0.2},{"t":56,"v":0.3},{"t":64,"v":0.25},{"t":72,"v":0.35},{"t":80,"v":0.3},{"t":88,"v":0.2},{"t":96,"v":0.3},{"t":104,"v":0.35},{"t":112,"v":0.2},{"t":120,"v":0.3},{"t":128,"v":0.25},{"t":136,"v":0.15},{"t":144,"v":0.1},{"t":152,"v":0.1},{"t":162,"v":0.2},{"t":168,"v":0.05},{"t":180,"v":0.1},{"t":192,"v":0.05},{"t":200,"v":0.1},{"t":206,"v":0.5},{"t":212,"v":0.1},{"t":224,"v":0.15},{"t":232,"v":0.05},{"t":242,"v":0.1},{"t":247,"v":0.5},{"t":252,"v":0.1},{"t":266,"v":0.15},{"t":276,"v":0.1},{"t":286,"v":0.2},{"t":294,"v":0.15},{"t":300,"v":0.45},{"t":306,"v":0.2},{"t":316,"v":0.25},{"t":326,"v":0.2},{"t":334,"v":0.3},{"t":340,"v":0.2},{"t":346,"v":0.6},{"t":352,"v":0.3},{"t":362,"v":0.25},{"t":372,"v":0.3},{"t":382,"v":0.2},{"t":392,"v":0.25},{"t":402,"v":0.2},{"t":412,"v":0.3},{"t":422,"v":0.2},{"t":432,"v":0.25},{"t":442,"v":0.15},{"t":452,"v":0.25},{"t":462,"v":0.15},{"t":472,"v":0.2},{"t":482,"v":0.25},{"t":490,"v":0.4},{"t":496,"v":0.2},{"t":506,"v":0.15},{"t":516,"v":0.2},{"t":526,"v":0.15},{"t":536,"v":0.2},{"t":546,"v":0.1},{"t":556,"v":0.25},{"t":566,"v":0.3},{"t":572,"v":0.5},{"t":578,"v":0.25},{"t":588,"v":0.3},{"t":598,"v":0.25},{"t":608,"v":0.4},{"t":614,"v":0.25},{"t":624,"v":0.3},{"t":634,"v":0.2},{"t":644,"v":0.3},{"t":654,"v":0.25},{"t":664,"v":0.35},{"t":674,"v":0.2},{"t":684,"v":0.3},{"t":694,"v":0.25},{"t":704,"v":0.3},{"t":714,"v":0.35},{"t":722,"v":0.3},{"t":730,"v":0.55},{"t":736,"v":0.3},{"t":746,"v":0.25},{"t":756,"v":0.35},{"t":766,"v":0.25},{"t":776,"v":0.3},{"t":786,"v":0.35},{"t":796,"v":0.3},{"t":806,"v":0.35},{"t":816,"v":0.25},{"t":826,"v":0.3},{"t":834,"v":0.4},{"t":840,"v":0.95},{"t":846,"v":0.35},{"t":856,"v":0.3},{"t":866,"v":0.3},{"t":876,"v":0.25},{"t":886,"v":0.3},{"t":896,"v":0.35},{"t":906,"v":0.3},{"t":914,"v":0.35},{"t":920,"v":0.6},{"t":925,"v":1.2},{"t":930,"v":0.4},{"t":940,"v":0.3},{"t":950,"v":0.35},{"t":960,"v":0.3},{"t":970,"v":0.25},{"t":980,"v":0.3},{"t":990,"v":0.25},{"t":1000,"v":0.35},{"t":1010,"v":0.3},{"t":1020,"v":0.25},{"t":1030,"v":0.3},{"t":1040,"v":0.35},{"t":1050,"v":0.3},{"t":1060,"v":0.25},{"t":1070,"v":0.3},{"t":1077,"v":0.5},{"t":1084,"v":0.3},{"t":1094,"v":0.25},{"t":1104,"v":0.3},{"t":1114,"v":0.25},{"t":1124,"v":0.3},{"t":1134,"v":0.2},{"t":1144,"v":0.25},{"t":1154,"v":0.3},{"t":1164,"v":0.2},{"t":1174,"v":0.25},{"t":1180,"v":0.45},{"t":1186,"v":0.2},{"t":1196,"v":0.25},{"t":1206,"v":0.3},{"t":1216,"v":0.2},{"t":1226,"v":0.25},{"t":1236,"v":0.3},{"t":1246,"v":0.2},{"t":1256,"v":0.25},{"t":1266,"v":0.2},{"t":1276,"v":0.25},{"t":1286,"v":0.2},{"t":1296,"v":0.25},{"t":1302,"v":0.4},{"t":1308,"v":0.2},{"t":1318,"v":0.15},{"t":1328,"v":0.25},{"t":1338,"v":0.2},{"t":1348,"v":0.25},{"t":1358,"v":0.2},{"t":1366,"v":0.45},{"t":1372,"v":0.2},{"t":1384,"v":0.15},{"t":1396,"v":0.2},{"t":1408,"v":0.15},{"t":1420,"v":0.1},{"t":1432,"v":0.15},{"t":1444,"v":0.1},{"t":1456,"v":0.15},{"t":1468,"v":0.1},{"t":1480,"v":0.05},{"t":1500,"v":0.05},{"t":1520,"v":0.05},{"t":1536,"v":0.1},{"t":1546,"v":0.3},{"t":1554,"v":0.45},{"t":1562,"v":0.35},{"t":1570,"v":0.5},{"t":1578,"v":0.3},{"t":1586,"v":0.45},{"t":1594,"v":0.35},{"t":1602,"v":0.3},{"t":1610,"v":0.2}],
"o8": [{"t":0,"v":0.2},{"t":8,"v":0.35},{"t":16,"v":0.25},{"t":24,"v":0.3},{"t":32,"v":0.2},{"t":40,"v":0.35},{"t":48,"v":0.3},{"t":56,"v":0.25},{"t":64,"v":0.35},{"t":72,"v":0.3},{"t":80,"v":0.2},{"t":88,"v":0.25},{"t":96,"v":0.3},{"t":104,"v":0.2},{"t":112,"v":0.15},{"t":120,"v":0.2},{"t":128,"v":0.1},{"t":136,"v":0.15},{"t":146,"v":0.05},{"t":160,"v":0.02},{"t":200,"v":0.02},{"t":240,"v":0.02},{"t":270,"v":0.02},{"t":280,"v":0.05},{"t":290,"v":0.15},{"t":300,"v":0.1},{"t":310,"v":0.2},{"t":320,"v":0.15},{"t":330,"v":0.25},{"t":340,"v":0.2},{"t":350,"v":0.3},{"t":360,"v":0.2},{"t":370,"v":0.35},{"t":380,"v":0.25},{"t":390,"v":0.3},{"t":400,"v":0.25},{"t":410,"v":0.35},{"t":420,"v":0.3},{"t":430,"v":0.45},{"t":440,"v":0.3},{"t":450,"v":0.4},{"t":460,"v":0.35},{"t":470,"v":0.5},{"t":480,"v":0.4},{"t":490,"v":0.3},{"t":500,"v":0.4},{"t":510,"v":0.35},{"t":520,"v":0.45},{"t":530,"v":0.6},{"t":540,"v":0.4},{"t":545,"v":1.15},{"t":550,"v":0.45},{"t":560,"v":0.35},{"t":570,"v":0.5},{"t":580,"v":0.55},{"t":590,"v":0.4},{"t":600,"v":0.45},{"t":610,"v":0.5},{"t":620,"v":0.35},{"t":630,"v":0.55},{"t":640,"v":0.45},{"t":650,"v":0.6},{"t":660,"v":0.4},{"t":670,"v":0.5},{"t":680,"v":0.45},{"t":690,"v":0.35},{"t":700,"v":0.4},{"t":710,"v":0.5},{"t":720,"v":0.45},{"t":730,"v":0.7},{"t":740,"v":0.45},{"t":750,"v":0.35},{"t":760,"v":0.4},{"t":770,"v":0.3},{"t":780,"v":0.35},{"t":790,"v":0.45},{"t":800,"v":0.35},{"t":810,"v":0.25},{"t":820,"v":0.35},{"t":830,"v":0.55},{"t":840,"v":0.6},{"t":850,"v":0.45},{"t":860,"v":0.5},{"t":870,"v":0.55},{"t":880,"v":0.45},{"t":890,"v":0.5},{"t":896,"v":0.9},{"t":902,"v":0.45},{"t":912,"v":0.4},{"t":922,"v":0.55},{"t":932,"v":0.5},{"t":942,"v":0.6},{"t":950,"v":1.0},{"t":956,"v":0.55},{"t":966,"v":0.45},{"t":976,"v":0.5},{"t":986,"v":0.6},{"t":996,"v":0.45},{"t":1006,"v":0.55},{"t":1016,"v":0.5},{"t":1026,"v":0.45},{"t":1034,"v":0.6},{"t":1040,"v":0.9},{"t":1046,"v":0.5},{"t":1056,"v":0.4},{"t":1066,"v":0.45},{"t":1076,"v":0.35},{"t":1086,"v":0.5},{"t":1096,"v":0.4},{"t":1106,"v":0.5},{"t":1116,"v":0.35},{"t":1126,"v":0.4},{"t":1136,"v":0.3},{"t":1146,"v":0.4},{"t":1156,"v":0.35},{"t":1166,"v":0.45},{"t":1176,"v":0.4},{"t":1185,"v":0.6},{"t":1192,"v":0.35},{"t":1202,"v":0.3},{"t":1212,"v":0.4},{"t":1222,"v":0.35},{"t":1232,"v":0.45},{"t":1242,"v":0.5},{"t":1252,"v":0.4},{"t":1262,"v":0.45},{"t":1272,"v":0.55},{"t":1282,"v":0.4},{"t":1292,"v":0.45},{"t":1302,"v":0.35},{"t":1312,"v":0.4},{"t":1322,"v":0.35},{"t":1332,"v":0.45},{"t":1342,"v":0.5},{"t":1350,"v":0.7},{"t":1356,"v":0.45},{"t":1366,"v":0.35},{"t":1376,"v":0.45},{"t":1386,"v":0.55},{"t":1394,"v":0.3},{"t":1404,"v":0.2},{"t":1416,"v":0.25},{"t":1428,"v":0.15},{"t":1440,"v":0.2},{"t":1452,"v":0.15},{"t":1464,"v":0.2},{"t":1476,"v":0.15},{"t":1488,"v":0.2},{"t":1500,"v":0.15},{"t":1512,"v":0.2},{"t":1524,"v":0.15},{"t":1536,"v":0.25},{"t":1545,"v":0.4},{"t":1552,"v":0.2},{"t":1562,"v":0.25},{"t":1575,"v":0.5},{"t":1582,"v":0.3},{"t":1592,"v":0.45},{"t":1600,"v":0.9},{"t":1606,"v":0.6},{"t":1610,"v":0.4}],
"o9": [{"t":0,"v":0.05},{"t":6,"v":0.3},{"t":12,"v":0.25},{"t":20,"v":0.6},{"t":28,"v":0.4},{"t":35,"v":0.95},{"t":42,"v":0.5},{"t":50,"v":0.2},{"t":58,"v":0.3},{"t":66,"v":0.25},{"t":76,"v":0.2},{"t":86,"v":0.3},{"t":96,"v":0.15},{"t":104,"v":0.2},{"t":112,"v":0.05},{"t":130,"v":0.02},{"t":160,"v":0.02},{"t":186,"v":0.05},{"t":190,"v":0.35},{"t":198,"v":0.3},{"t":206,"v":0.45},{"t":214,"v":0.3},{"t":222,"v":0.4},{"t":230,"v":0.1},{"t":242,"v":0.05},{"t":256,"v":0.1},{"t":262,"v":0.55},{"t":270,"v":0.45},{"t":278,"v":0.6},{"t":286,"v":0.8},{"t":294,"v":0.5},{"t":302,"v":0.65},{"t":308,"v":0.2},{"t":318,"v":0.1},{"t":326,"v":0.3},{"t":334,"v":0.55},{"t":340,"v":0.9},{"t":346,"v":0.6},{"t":354,"v":0.35},{"t":362,"v":0.2},{"t":372,"v":0.3},{"t":380,"v":0.6},{"t":388,"v":0.55},{"t":396,"v":0.3},{"t":406,"v":0.2},{"t":416,"v":0.3},{"t":426,"v":0.4},{"t":436,"v":0.25},{"t":444,"v":0.5},{"t":450,"v":0.9},{"t":456,"v":0.95},{"t":464,"v":0.75},{"t":472,"v":0.9},{"t":480,"v":0.5},{"t":488,"v":0.3},{"t":496,"v":0.25},{"t":506,"v":0.45},{"t":512,"v":0.9},{"t":518,"v":1.0},{"t":526,"v":0.85},{"t":534,"v":0.95},{"t":542,"v":1.0},{"t":548,"v":0.7},{"t":556,"v":0.35},{"t":566,"v":0.3},{"t":576,"v":0.45},{"t":584,"v":0.65},{"t":592,"v":0.7},{"t":600,"v":0.4},{"t":608,"v":0.25},{"t":618,"v":0.6},{"t":626,"v":0.8},{"t":634,"v":0.75},{"t":642,"v":0.8},{"t":650,"v":0.6},{"t":658,"v":0.3},{"t":668,"v":0.2},{"t":678,"v":0.35},{"t":686,"v":0.5},{"t":694,"v":0.35},{"t":704,"v":0.2},{"t":714,"v":0.35},{"t":722,"v":0.5},{"t":730,"v":0.45},{"t":738,"v":0.2},{"t":746,"v":0.05},{"t":770,"v":0.05},{"t":794,"v":0.05},{"t":800,"v":0.9},{"t":806,"v":1.1},{"t":812,"v":1.0},{"t":818,"v":1.15},{"t":826,"v":1.05},{"t":834,"v":1.1},{"t":840,"v":0.9},{"t":846,"v":0.3},{"t":854,"v":0.2},{"t":864,"v":0.4},{"t":870,"v":0.95},{"t":878,"v":1.0},{"t":886,"v":0.9},{"t":894,"v":1.0},{"t":900,"v":0.5},{"t":908,"v":0.3},{"t":918,"v":0.5},{"t":925,"v":0.8},{"t":932,"v":0.45},{"t":940,"v":0.2},{"t":948,"v":0.35},{"t":954,"v":0.5},{"t":960,"v":0.2},{"t":970,"v":0.05},{"t":995,"v":0.05},{"t":1010,"v":0.05},{"t":1018,"v":0.3},{"t":1024,"v":0.6},{"t":1030,"v":0.8},{"t":1036,"v":0.4},{"t":1044,"v":0.2},{"t":1054,"v":0.3},{"t":1064,"v":0.25},{"t":1074,"v":0.35},{"t":1084,"v":0.2},{"t":1094,"v":0.35},{"t":1100,"v":0.5},{"t":1106,"v":0.2},{"t":1116,"v":0.05},{"t":1140,"v":0.05},{"t":1165,"v":0.05},{"t":1182,"v":0.1},{"t":1186,"v":0.95},{"t":1192,"v":1.05},{"t":1200,"v":1.0},{"t":1208,"v":1.1},{"t":1216,"v":1.05},{"t":1224,"v":0.9},{"t":1230,"v":0.3},{"t":1240,"v":0.2},{"t":1250,"v":0.35},{"t":1258,"v":0.6},{"t":1264,"v":0.8},{"t":1272,"v":0.75},{"t":1280,"v":0.6},{"t":1286,"v":0.2},{"t":1296,"v":0.1},{"t":1306,"v":0.25},{"t":1314,"v":0.3},{"t":1322,"v":0.2},{"t":1330,"v":0.5},{"t":1336,"v":0.95},{"t":1344,"v":1.0},{"t":1352,"v":0.9},{"t":1360,"v":0.7},{"t":1366,"v":0.3},{"t":1374,"v":0.5},{"t":1380,"v":0.6},{"t":1386,"v":0.3},{"t":1394,"v":0.1},{"t":1402,"v":0.05},{"t":1440,"v":0.05},{"t":1480,"v":0.05},{"t":1520,"v":0.05},{"t":1526,"v":0.6},{"t":1532,"v":0.85},{"t":1540,"v":0.9},{"t":1548,"v":0.8},{"t":1556,"v":0.85},{"t":1562,"v":0.3},{"t":1570,"v":0.2},{"t":1576,"v":0.8},{"t":1584,"v":0.95},{"t":1592,"v":1.0},{"t":1600,"v":0.9},{"t":1606,"v":0.7},{"t":1610,"v":0.3}],
"o10": [{"t":0,"v":0.1},{"t":3,"v":0.95},{"t":8,"v":0.3},{"t":12,"v":0.85},{"t":18,"v":0.9},{"t":24,"v":0.5},{"t":30,"v":0.95},{"t":38,"v":0.85},{"t":46,"v":0.95},{"t":54,"v":0.8},{"t":60,"v":0.3},{"t":66,"v":0.1},{"t":70,"v":0.02},{"t":120,"v":0.02},{"t":180,"v":0.02},{"t":226,"v":0.02},{"t":232,"v":0.15},{"t":238,"v":0.02},{"t":262,"v":0.02},{"t":268,"v":0.6},{"t":274,"v":0.9},{"t":280,"v":0.85},{"t":286,"v":0.95},{"t":292,"v":0.8},{"t":298,"v":0.9},{"t":304,"v":0.75},{"t":310,"v":0.85},{"t":316,"v":0.9},{"t":322,"v":0.3},{"t":328,"v":0.8},{"t":334,"v":0.95},{"t":340,"v":0.7},{"t":346,"v":0.2},{"t":352,"v":0.05},{"t":360,"v":0.6},{"t":366,"v":0.9},{"t":372,"v":0.8},{"t":378,"v":0.95},{"t":384,"v":0.85},{"t":390,"v":0.9},{"t":396,"v":0.5},{"t":402,"v":0.3},{"t":408,"v":0.7},{"t":414,"v":0.8},{"t":420,"v":0.15},{"t":426,"v":0.05},{"t":434,"v":0.3},{"t":440,"v":0.75},{"t":446,"v":0.85},{"t":452,"v":0.6},{"t":458,"v":0.1},{"t":466,"v":0.05},{"t":474,"v":0.6},{"t":480,"v":0.85},{"t":486,"v":0.8},{"t":492,"v":0.3},{"t":500,"v":0.05},{"t":508,"v":0.5},{"t":514,"v":0.8},{"t":520,"v":0.9},{"t":526,"v":0.85},{"t":532,"v":0.3},{"t":538,"v":0.05},{"t":548,"v":0.05},{"t":554,"v":0.6},{"t":560,"v":0.75},{"t":566,"v":0.5},{"t":572,"v":0.3},{"t":580,"v":0.7},{"t":586,"v":0.9},{"t":592,"v":0.85},{"t":598,"v":0.8},{"t":604,"v":0.2},{"t":610,"v":0.05},{"t":618,"v":0.05},{"t":624,"v":0.8},{"t":630,"v":0.95},{"t":636,"v":0.9},{"t":642,"v":0.3},{"t":650,"v":0.05},{"t":656,"v":0.7},{"t":662,"v":0.85},{"t":668,"v":0.8},{"t":674,"v":0.2},{"t":682,"v":0.05},{"t":690,"v":0.6},{"t":696,"v":0.8},{"t":702,"v":0.9},{"t":708,"v":0.85},{"t":714,"v":0.3},{"t":720,"v":0.1},{"t":730,"v":0.05},{"t":738,"v":0.6},{"t":744,"v":0.8},{"t":750,"v":0.85},{"t":756,"v":0.75},{"t":762,"v":0.8},{"t":768,"v":0.3},{"t":776,"v":0.1},{"t":782,"v":0.05},{"t":790,"v":0.4},{"t":796,"v":0.55},{"t":802,"v":0.5},{"t":808,"v":0.6},{"t":814,"v":0.45},{"t":820,"v":0.6},{"t":826,"v":0.55},{"t":832,"v":0.2},{"t":840,"v":0.1},{"t":846,"v":0.5},{"t":852,"v":0.7},{"t":858,"v":0.6},{"t":864,"v":0.75},{"t":870,"v":0.7},{"t":876,"v":0.3},{"t":882,"v":0.1},{"t":890,"v":0.6},{"t":896,"v":0.85},{"t":902,"v":0.9},{"t":908,"v":0.8},{"t":914,"v":0.95},{"t":920,"v":0.85},{"t":926,"v":0.3},{"t":932,"v":0.1},{"t":940,"v":0.7},{"t":946,"v":0.85},{"t":952,"v":0.8},{"t":958,"v":0.3},{"t":964,"v":0.05},{"t":972,"v":0.5},{"t":978,"v":0.85},{"t":984,"v":0.8},{"t":990,"v":0.3},{"t":996,"v":0.1},{"t":1002,"v":0.6},{"t":1008,"v":0.75},{"t":1014,"v":0.2},{"t":1020,"v":0.05},{"t":1040,"v":0.05},{"t":1060,"v":0.05},{"t":1066,"v":0.7},{"t":1072,"v":0.95},{"t":1078,"v":0.9},{"t":1084,"v":1.0},{"t":1090,"v":0.85},{"t":1096,"v":0.9},{"t":1102,"v":0.8},{"t":1108,"v":0.95},{"t":1114,"v":0.3},{"t":1120,"v":0.6},{"t":1126,"v":0.85},{"t":1132,"v":0.8},{"t":1138,"v":0.3},{"t":1144,"v":0.1},{"t":1152,"v":0.5},{"t":1158,"v":0.8},{"t":1164,"v":0.75},{"t":1170,"v":0.3},{"t":1176,"v":0.05},{"t":1184,"v":0.6},{"t":1190,"v":0.85},{"t":1196,"v":0.9},{"t":1202,"v":0.8},{"t":1208,"v":0.3},{"t":1214,"v":0.1},{"t":1222,"v":0.7},{"t":1228,"v":0.85},{"t":1234,"v":0.8},{"t":1240,"v":0.2},{"t":1246,"v":0.05},{"t":1254,"v":0.6},{"t":1260,"v":0.85},{"t":1266,"v":0.8},{"t":1272,"v":0.3},{"t":1278,"v":0.1},{"t":1286,"v":0.6},{"t":1292,"v":0.8},{"t":1298,"v":0.3},{"t":1306,"v":0.05},{"t":1314,"v":0.7},{"t":1320,"v":0.85},{"t":1326,"v":0.3},{"t":1334,"v":0.05},{"t":1342,"v":0.5},{"t":1348,"v":0.75},{"t":1354,"v":0.3},{"t":1362,"v":0.05},{"t":1372,"v":0.45},{"t":1378,"v":0.7},{"t":1384,"v":0.3},{"t":1392,"v":0.05},{"t":1400,"v":0.3},{"t":1406,"v":0.5},{"t":1412,"v":0.1},{"t":1420,"v":0.05},{"t":1430,"v":0.3},{"t":1436,"v":0.55},{"t":1442,"v":0.15},{"t":1450,"v":0.05},{"t":1460,"v":0.4},{"t":1466,"v":0.7},{"t":1472,"v":0.3},{"t":1480,"v":0.05},{"t":1490,"v":0.4},{"t":1496,"v":0.75},{"t":1502,"v":0.4},{"t":1508,"v":0.1},{"t":1518,"v":0.05},{"t":1526,"v":0.5},{"t":1532,"v":0.75},{"t":1538,"v":0.3},{"t":1546,"v":0.1},{"t":1554,"v":0.6},{"t":1560,"v":0.8},{"t":1566,"v":0.3},{"t":1574,"v":0.05},{"t":1582,"v":0.6},{"t":1588,"v":0.8},{"t":1594,"v":0.3},{"t":1600,"v":0.7},{"t":1606,"v":0.6},{"t":1610,"v":0.3}]
},
"vconcat": [
{"width": 505, "height": 85,
 "layer": [
  {"data": {"name": "blue"}, "mark": {"type": "area", "interpolate": "step", "color": "#1d73b1", "stroke": "#1d73b1", "strokeWidth": 1},
   "encoding": {"x": {"field": "t", "type": "quantitative", "scale": {"domain": [-83, 1700], "nice": false, "zero": false}, "axis": null},
     "y": {"field": "hi", "type": "quantitative", "scale": {"domain": [0, 4.857], "nice": false, "zero": false}, "axis": null},
     "y2": {"field": "lo"}}},
  {"data": {"values": [{"t": 1654, "a": 0.686, "b": 2.686}]}, "mark": {"type": "rule", "color": "#333", "strokeWidth": 1.5},
   "encoding": {"x": {"field": "t", "type": "quantitative"}, "y": {"field": "a", "type": "quantitative"}, "y2": {"field": "b"}}},
  {"data": {"values": [{"t": 1697, "y": 1.3, "label": "2"}]}, "mark": {"type": "text", "align": "left", "baseline": "middle", "fontSize": 18, "font": "Liberation Sans", "color": "#222"},
   "encoding": {"x": {"field": "t", "type": "quantitative"}, "y": {"field": "y", "type": "quantitative"}, "text": {"field": "label"}}},
  {"data": {"values": [{"t": -150, "y": 6.1, "label": "C"}]}, "mark": {"type": "text", "align": "center", "baseline": "middle", "fontSize": 20, "fontWeight": "bold", "font": "Liberation Sans", "color": "#111"},
   "encoding": {"x": {"field": "t", "type": "quantitative"}, "y": {"field": "y", "type": "quantitative"}, "text": {"field": "label"}}},
  {"data": {"values": [{"t": 820, "y": 5.95, "label": "Day 6 Sleep"}]}, "mark": {"type": "text", "align": "center", "baseline": "middle", "fontSize": 17, "font": "Liberation Sans", "color": "#222"},
   "encoding": {"x": {"field": "t", "type": "quantitative"}, "y": {"field": "y", "type": "quantitative"}, "text": {"field": "label"}}}
 ]},
{"width": 505, "height": 32,
 "layer": [
  {"data": {"name": "green"}, "mark": {"type": "area", "interpolate": "step", "color": "#21a33b", "stroke": "#21a33b", "strokeWidth": 1},
   "encoding": {"x": {"field": "t", "type": "quantitative", "scale": {"domain": [-83, 1700], "nice": false, "zero": false}, "axis": null},
     "y": {"field": "hi", "type": "quantitative", "scale": {"domain": [-53.33, 53.33], "nice": false, "zero": false}, "axis": null},
     "y2": {"field": "lo"}}},
  {"data": {"values": [{"t": 1652, "a": -30, "b": 20}]}, "mark": {"type": "rule", "color": "#333", "strokeWidth": 1.5},
   "encoding": {"x": {"field": "t", "type": "quantitative"}, "y": {"field": "a", "type": "quantitative"}, "y2": {"field": "b"}}},
  {"data": {"values": [{"t": 1697, "y": -13, "label": "50µV"}]}, "mark": {"type": "text", "align": "left", "baseline": "middle", "fontSize": 18, "font": "Liberation Sans", "color": "#222"},
   "encoding": {"x": {"field": "t", "type": "quantitative"}, "y": {"field": "y", "type": "quantitative"}, "text": {"field": "label"}}}
 ]},
{"width": 505, "height": 47.5,
 "layer": [
  {"data": {"name": "red"}, "mark": {"type": "area", "interpolate": "step", "color": "#ec2329", "stroke": "#ec2329", "strokeWidth": 1},
   "encoding": {"x": {"field": "t", "type": "quantitative", "scale": {"domain": [-83, 1700], "nice": false, "zero": false}, "axis": null},
     "y": {"field": "hi", "type": "quantitative", "scale": {"domain": [-167.6, 111.8], "nice": false, "zero": false}, "axis": null},
     "y2": {"field": "lo"}}},
  {"data": {"values": [{"t": 1652, "a": -64.7, "b": 29.4}]}, "mark": {"type": "rule", "color": "#333", "strokeWidth": 1.5},
   "encoding": {"x": {"field": "t", "type": "quantitative"}, "y": {"field": "a", "type": "quantitative"}, "y2": {"field": "b"}}},
  {"data": {"values": [{"t": 1697, "y": -35, "label": "100µV"}]}, "mark": {"type": "text", "align": "left", "baseline": "middle", "fontSize": 18, "font": "Liberation Sans", "color": "#222"},
   "encoding": {"x": {"field": "t", "type": "quantitative"}, "y": {"field": "y", "type": "quantitative"}, "text": {"field": "label"}}}
 ]},
{"width": 505, "height": 25.5, "data": {"name": "o1"}, "mark": {"type": "line", "interpolate": "step", "color": "#f5853a", "strokeWidth": 3},
 "encoding": {"x": {"field": "t", "type": "quantitative", "scale": {"domain": [-83, 1700], "nice": false, "zero": false}, "axis": null},
   "y": {"field": "v", "type": "quantitative", "scale": {"domain": [-0.0833, 1.3333], "nice": false, "zero": false}, "axis": null}}},
{"width": 505, "height": 25.5, "data": {"name": "o2"}, "mark": {"type": "line", "interpolate": "step", "color": "#f5853a", "strokeWidth": 3},
 "encoding": {"x": {"field": "t", "type": "quantitative", "scale": {"domain": [-83, 1700], "nice": false, "zero": false}, "axis": null},
   "y": {"field": "v", "type": "quantitative", "scale": {"domain": [-0.0833, 1.3333], "nice": false, "zero": false}, "axis": null}}},
{"width": 505, "height": 25.5, "data": {"name": "o3"}, "mark": {"type": "line", "interpolate": "step", "color": "#f5853a", "strokeWidth": 3},
 "encoding": {"x": {"field": "t", "type": "quantitative", "scale": {"domain": [-83, 1700], "nice": false, "zero": false}, "axis": null},
   "y": {"field": "v", "type": "quantitative", "scale": {"domain": [-0.0833, 1.3333], "nice": false, "zero": false}, "axis": null}}},
{"width": 505, "height": 25.5, "data": {"name": "o4"}, "mark": {"type": "line", "interpolate": "step", "color": "#f5853a", "strokeWidth": 3},
 "encoding": {"x": {"field": "t", "type": "quantitative", "scale": {"domain": [-83, 1700], "nice": false, "zero": false}, "axis": null},
   "y": {"field": "v", "type": "quantitative", "scale": {"domain": [-0.0833, 1.3333], "nice": false, "zero": false}, "axis": null}}},
{"width": 505, "height": 25.5, "data": {"name": "o5"}, "mark": {"type": "line", "interpolate": "step", "color": "#f5853a", "strokeWidth": 3},
 "encoding": {"x": {"field": "t", "type": "quantitative", "scale": {"domain": [-83, 1700], "nice": false, "zero": false}, "axis": null},
   "y": {"field": "v", "type": "quantitative", "scale": {"domain": [-0.0833, 1.3333], "nice": false, "zero": false}, "axis": null}}},
{"width": 505, "height": 25.5, "data": {"name": "o6"}, "mark": {"type": "line", "interpolate": "step", "color": "#f5853a", "strokeWidth": 3},
 "encoding": {"x": {"field": "t", "type": "quantitative", "scale": {"domain": [-83, 1700], "nice": false, "zero": false}, "axis": null},
   "y": {"field": "v", "type": "quantitative", "scale": {"domain": [-0.0833, 1.3333], "nice": false, "zero": false}, "axis": null}}},
{"width": 505, "height": 25.5, "data": {"name": "o7"}, "mark": {"type": "line", "interpolate": "step", "color": "#f5853a", "strokeWidth": 3},
 "encoding": {"x": {"field": "t", "type": "quantitative", "scale": {"domain": [-83, 1700], "nice": false, "zero": false}, "axis": null},
   "y": {"field": "v", "type": "quantitative", "scale": {"domain": [-0.0833, 1.3333], "nice": false, "zero": false}, "axis": null}}},
{"width": 505, "height": 25.5, "data": {"name": "o8"}, "mark": {"type": "line", "interpolate": "step", "color": "#f5853a", "strokeWidth": 3},
 "encoding": {"x": {"field": "t", "type": "quantitative", "scale": {"domain": [-83, 1700], "nice": false, "zero": false}, "axis": null},
   "y": {"field": "v", "type": "quantitative", "scale": {"domain": [-0.0833, 1.3333], "nice": false, "zero": false}, "axis": null}}},
{"width": 505, "height": 25.5, "data": {"name": "o9"}, "mark": {"type": "line", "interpolate": "step", "color": "#f5853a", "strokeWidth": 3},
 "encoding": {"x": {"field": "t", "type": "quantitative", "scale": {"domain": [-83, 1700], "nice": false, "zero": false}, "axis": null},
   "y": {"field": "v", "type": "quantitative", "scale": {"domain": [-0.0833, 1.3333], "nice": false, "zero": false}, "axis": null}}},
{"width": 505, "height": 25.5,
 "layer": [
  {"data": {"name": "o10"}, "mark": {"type": "line", "interpolate": "step", "color": "#f5853a", "strokeWidth": 3},
   "encoding": {"x": {"field": "t", "type": "quantitative", "scale": {"domain": [-83, 1700], "nice": false, "zero": false},
       "axis": {"title": "時間（秒）", "values": [0, 200, 400, 600, 800, 1000, 1200, 1400, 1600], "format": "d", "grid": false, "offset": 15.5,
         "domainColor": "#555", "domainWidth": 2, "tickColor": "#555", "tickWidth": 1.5, "tickSize": 6,
         "labelFont": "Liberation Sans", "labelFontSize": 18, "labelColor": "#222", "labelPadding": 7, "labelFlush": false,
         "titleFont": "Noto Sans CJK JP", "titleFontSize": 18, "titleFontWeight": "normal", "titleColor": "#555", "titlePadding": 8}},
     "y": {"field": "v", "type": "quantitative", "scale": {"domain": [-0.0833, 1.3333], "nice": false, "zero": false}, "axis": null}}},
  {"data": {"values": [{"t": 1661, "a": -0.444, "b": 0.556}]}, "mark": {"type": "rule", "color": "#333", "strokeWidth": 1.5},
   "encoding": {"x": {"field": "t", "type": "quantitative"}, "y": {"field": "a", "type": "quantitative"}, "y2": {"field": "b"}}},
  {"data": {"values": [{"t": 1700, "y": 0.06, "label": "a.u."}]}, "mark": {"type": "text", "align": "left", "baseline": "middle", "fontSize": 18, "font": "Liberation Sans", "color": "#222"},
   "encoding": {"x": {"field": "t", "type": "quantitative"}, "y": {"field": "y", "type": "quantitative"}, "text": {"field": "label"}}}
 ]}
]
}
